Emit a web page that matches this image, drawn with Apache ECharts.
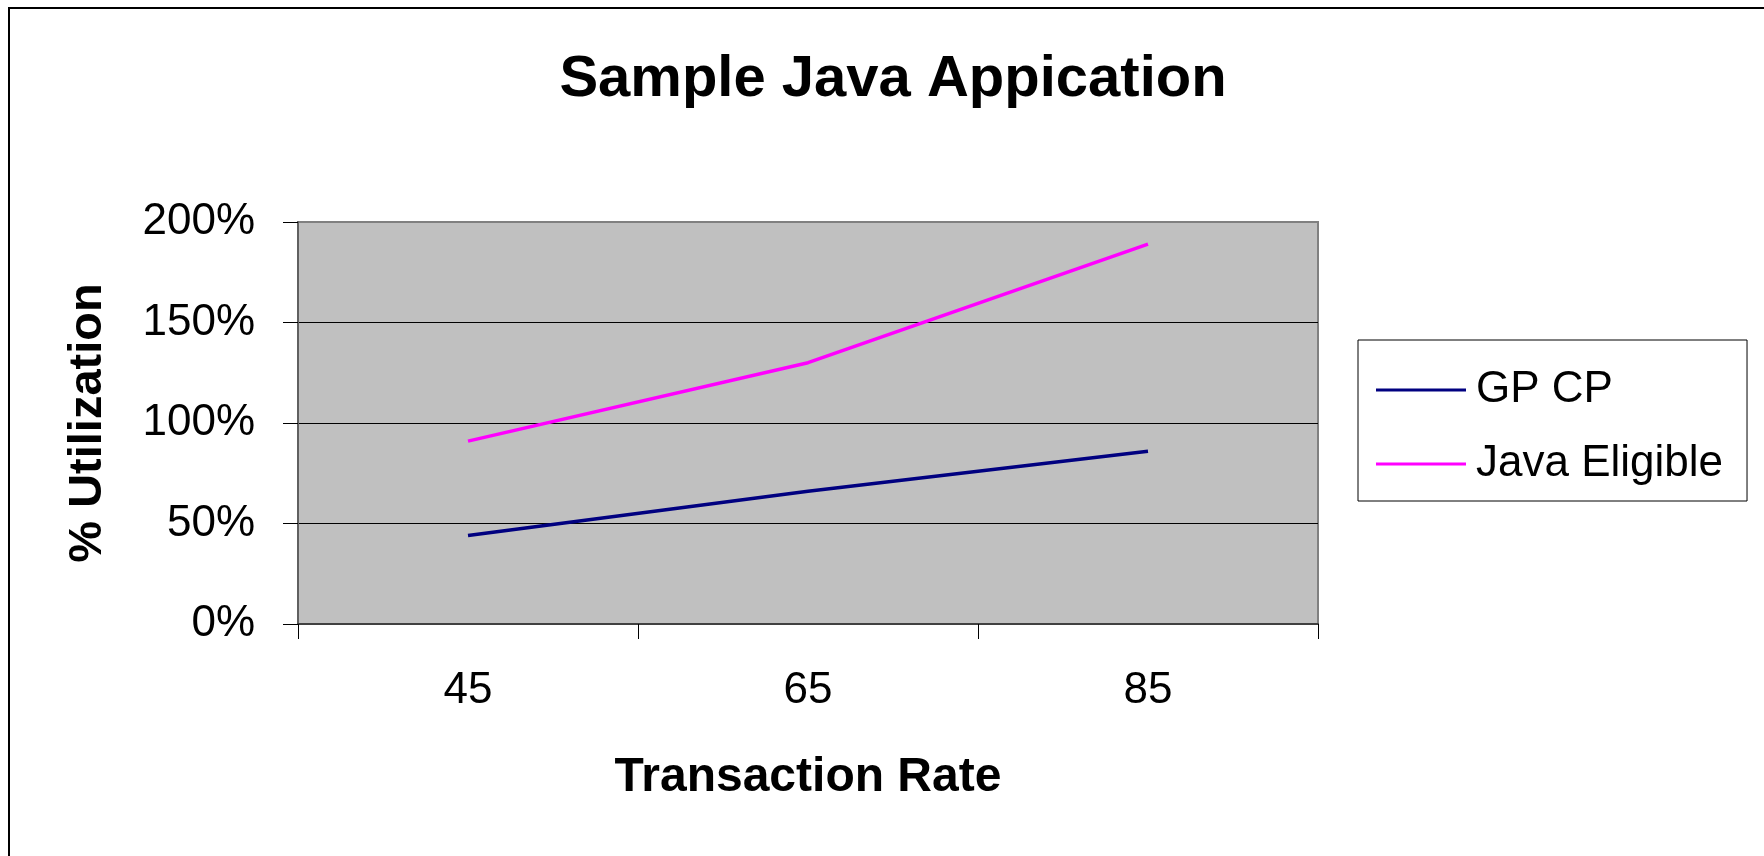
<!DOCTYPE html>
<html>
<head>
<meta charset="utf-8">
<title>Sample Java Appication</title>
<script src="https://cdn.jsdelivr.net/npm/echarts@6.0.0/dist/echarts.min.js"></script>
<style>
    html, body { margin: 0; padding: 0; background: #fff; }
    #main { width: 1764px; height: 856px; }
</style>
</head>
<body>
<div id="main"></div>
<script>
// 数据
var rates = ['45', '65', '85'];
var gpCp = [44, 66, 86];
var javaEligible = [91, 130, 189];
var seriesNames = ['GP CP', 'Java Eligible'];

var font = 'Arial, "Liberation Sans", sans-serif';

var myChart = echarts.init(document.getElementById('main'));
option = {
    backgroundColor: '#fff',
    animation: false,
    textStyle: { fontFamily: font },
    title: {
        text: 'Sample Java Appication',
        left: 888,
        top: 46,
        textAlign: 'center',
        textStyle: { fontFamily: font, fontSize: 58, fontWeight: 'bold', color: '#000' }
    },
    // 外框
    graphic: [{
        type: 'rect',
        shape: { x: 9, y: 8, width: 1800, height: 900 },
        style: { fill: 'none', stroke: '#000', lineWidth: 2 },
        silent: true
    }],
    legend: {
        orient: 'vertical',
        left: 1358,
        top: 340,
        padding: [28, 24, 15, 18],
        itemGap: 30,
        itemWidth: 90,
        itemHeight: 3,
        icon: 'rect',
        borderColor: '#000',
        borderWidth: 1,
        backgroundColor: '#fff',
        textStyle: { fontFamily: font, fontSize: 44, color: '#000', padding: [0, 0, 0, 5] },
        data: seriesNames
    },
    grid: {
        left: 298,
        right: 446,
        top: 222,
        bottom: 232,
        show: true,
        backgroundColor: '#C0C0C0',
        borderColor: '#808080',
        borderWidth: 2
    },
    xAxis: {
        type: 'category',
        data: rates,
        boundaryGap: true,
        name: 'Transaction Rate',
        nameLocation: 'middle',
        nameGap: 130,
        nameTextStyle: { fontFamily: font, fontSize: 48, fontWeight: 'bold', color: '#000' },
        axisLine: { lineStyle: { color: '#404040', width: 2 } },
        axisTick: { show: true, length: 15, lineStyle: { color: '#000', width: 1 } },
        axisLabel: { margin: 45, fontFamily: font, fontSize: 44, color: '#000' },
        splitLine: { show: false }
    },
    yAxis: {
        type: 'value',
        min: 0,
        max: 200,
        interval: 50,
        name: '% Utilization',
        nameLocation: 'middle',
        nameGap: 186,
        nameTextStyle: { fontFamily: font, fontSize: 47, fontWeight: 'bold', color: '#000' },
        axisLine: { show: true, lineStyle: { color: '#606060', width: 2 } },
        axisTick: { show: true, length: 15, lineStyle: { color: '#000', width: 1 } },
        axisLabel: { margin: 43, fontFamily: font, fontSize: 44, color: '#000', formatter: '{value}%' },
        splitLine: { show: true, showMinLine: false, showMaxLine: false, lineStyle: { color: '#000', width: 1 } }
    },
    series: [
        {
            name: seriesNames[0],
            type: 'line',
            data: gpCp,
            showSymbol: false,
            color: '#000080',
            lineStyle: { color: '#000080', width: 3.5 }
        },
        {
            name: seriesNames[1],
            type: 'line',
            data: javaEligible,
            showSymbol: false,
            color: '#FF00FF',
            lineStyle: { color: '#FF00FF', width: 3.5 }
        }
    ]
};

myChart.setOption(option);
</script>
</body>
</html>
